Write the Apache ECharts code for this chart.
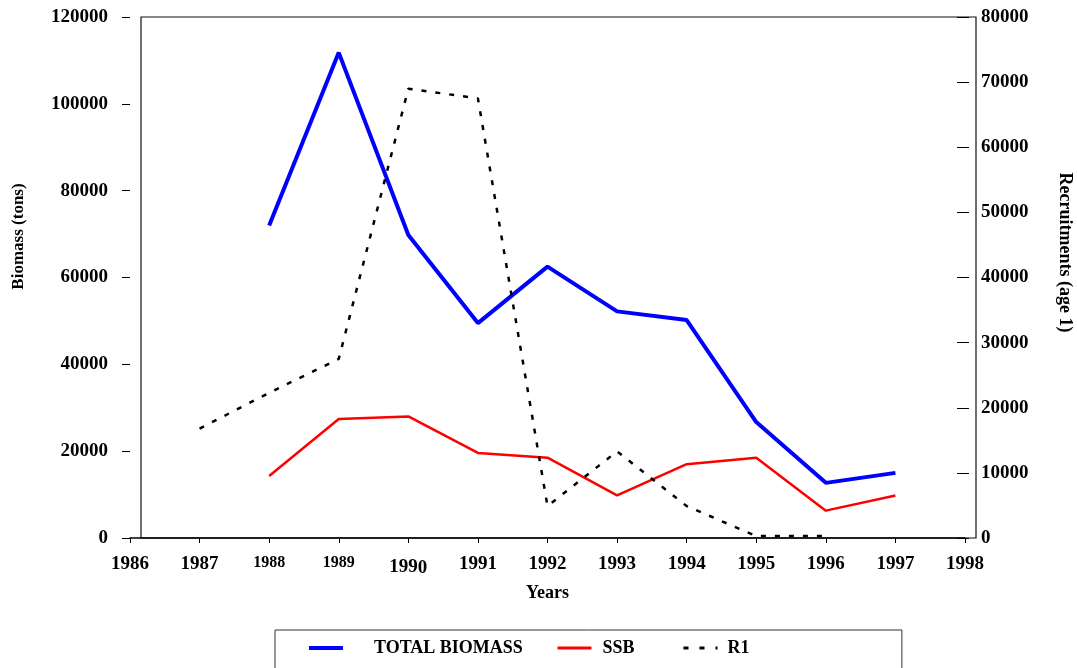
<!DOCTYPE html>
<html>
<head>
<meta charset="utf-8">
<script src="https://cdn.jsdelivr.net/npm/echarts@6/dist/echarts.min.js"></script>
<style>html,body{margin:0;padding:0;background:#fff;}#c{width:1077px;height:668px;}</style>
</head>
<body>
<div id="c"></div>
<script>
const years = [1987, 1988, 1989, 1990, 1991, 1992, 1993, 1994, 1995, 1996, 1997];
const totalBiomass = [null, 72000, 111800, 69800, 49500, 62500, 52200, 50200, 26700, 12700, 15000];
const ssb = [null, 14300, 27400, 28000, 19600, 18500, 9800, 17000, 18500, 6300, 9800];
const r1 = [16800, 22300, 27500, 69000, 67500, 4900, 13300, 4900, 300, 300, null];
const leftTicks = [0, 20000, 40000, 60000, 80000, 100000, 120000];
const rightTicks = [0, 10000, 20000, 30000, 40000, 50000, 60000, 70000, 80000];

const FONT = '"Liberation Serif", "DejaVu Serif", serif';
const pairs = (vals) => years.map((y, i) => [y, vals[i]]).filter(p => p[1] !== null);
const plain = (v) => String(v);

const legendText = {fontSize: 18, fontFamily: FONT, fontWeight: 'bold', color: '#000'};
const legendCommon = {
  orient: 'horizontal', itemWidth: 34, itemHeight: 14,
  itemStyle: {opacity: 0},
  textStyle: legendText
};

const chart = echarts.init(document.getElementById('c'), null, {renderer: 'canvas'});
chart.setOption({
  backgroundColor: '#fff',
  animation: false,
  textStyle: {fontFamily: FONT, fontWeight: 'bold', color: '#000'},
  grid: [
    {left: 130, right: 112, top: 17, bottom: 130, containLabel: false, outerBoundsMode: 'none'},
    {left: 141, right: 101, top: 17, bottom: 130, containLabel: false, outerBoundsMode: 'none',
     show: true, borderColor: '#111', borderWidth: 1.2, backgroundColor: 'transparent'}
  ],
  xAxis: [
    {
      type: 'value', gridIndex: 0, min: 1986, max: 1998, interval: 1,
      axisLine: {show: true, lineStyle: {color: '#000', width: 1.5}},
      axisTick: {show: true, inside: false, length: 5, lineStyle: {color: '#000', width: 1}},
      splitLine: {show: false},
      axisLabel: {
        margin: 17, fontSize: 19, fontFamily: FONT, fontWeight: 'bold', color: '#000',
        formatter: function (v) {
          if (v === 1988 || v === 1989) return '{s|' + v + '}';
          if (v === 1990) return '{d|199}{b|0}';
          return '{n|' + v + '}';
        },
        rich: {
          n: {fontSize: 19, fontFamily: FONT, fontWeight: 'bold', color: '#000'},
          s: {fontSize: 16, fontFamily: FONT, fontWeight: 'bold', color: '#000'},
          d: {fontSize: 19, fontFamily: FONT, fontWeight: 'bold', color: '#000', padding: [2, 0, 0, 0]},
          b: {fontSize: 19, fontFamily: FONT, fontWeight: 'bold', color: '#000', padding: [4, 0, 0, 0]}
        }
      },
      name: 'Years', nameLocation: 'middle', nameGap: 46,
      nameTextStyle: {fontSize: 18, fontFamily: FONT, fontWeight: 'bold', color: '#000'}
    },
    {type: 'value', gridIndex: 1, show: false, min: 0, max: 1}
  ],
  yAxis: [
    {
      type: 'value', gridIndex: 0, position: 'left', min: 0, max: 120000, interval: 20000,
      axisLine: {show: false},
      axisTick: {show: true, inside: false, length: 8, lineStyle: {color: '#000', width: 1}},
      splitLine: {show: false},
      axisLabel: {margin: 22, fontSize: 19, fontFamily: FONT, fontWeight: 'bold', color: '#000', formatter: plain},
      name: 'Biomass (tons)', nameLocation: 'middle', nameGap: 103, nameRotate: 90,
      nameTextStyle: {fontSize: 17, fontFamily: FONT, fontWeight: 'bold', color: '#000', padding: [0, 0, 0, 82]}
    },
    {
      type: 'value', gridIndex: 0, position: 'right', offset: 4, min: 0, max: 80000, interval: 10000,
      axisLine: {show: false},
      axisTick: {show: true, inside: true, length: 12, lineStyle: {color: '#000', width: 1}},
      splitLine: {show: false},
      axisLabel: {margin: 12, fontSize: 19, fontFamily: FONT, fontWeight: 'bold', color: '#000', formatter: plain},
      name: 'Recruitments (age 1)', nameLocation: 'middle', nameGap: 87, nameRotate: -90,
      nameTextStyle: {fontSize: 18, fontFamily: FONT, fontWeight: 'bold', color: '#000', padding: [0, 50, 0, 0]}
    },
    {type: 'value', gridIndex: 1, show: false, min: 0, max: 1}
  ],
  legend: [
    Object.assign({}, legendCommon, {
      left: 275, top: 630, padding: [9, 379, 40, 32],
      borderColor: '#333', borderWidth: 1,
      data: [{name: 'TOTAL BIOMASS', lineStyle: {width: 4, color: '#0000ff'}, textStyle: {padding: [0, 0, 0, 26]}}]
    }),
    Object.assign({}, legendCommon, {
      left: 556, top: 639, padding: 0,
      data: [{name: 'SSB', lineStyle: {width: 3, color: '#ff0000'}, textStyle: {padding: [0, 0, 0, 6]}}]
    }),
    Object.assign({}, legendCommon, {
      left: 682, top: 639, padding: 0,
      data: [{name: 'R1', lineStyle: {width: 3, color: '#000', type: [5, 11]}, textStyle: {padding: [0, 0, 0, 5]}}]
    })
  ],
  series: [
    {
      name: 'TOTAL BIOMASS', type: 'line', xAxisIndex: 0, yAxisIndex: 0,
      data: pairs(totalBiomass), symbol: 'none', color: '#0000ff',
      lineStyle: {color: '#0000ff', width: 4}
    },
    {
      name: 'SSB', type: 'line', xAxisIndex: 0, yAxisIndex: 0,
      data: pairs(ssb), symbol: 'none', color: '#ff0000',
      lineStyle: {color: '#ff0000', width: 2.5}
    },
    {
      name: 'R1', type: 'line', xAxisIndex: 0, yAxisIndex: 1,
      data: pairs(r1), symbol: 'none', color: '#000',
      lineStyle: {color: '#000', width: 2.5, type: [5, 9]}
    }
  ]
});
</script>
</body>
</html>
